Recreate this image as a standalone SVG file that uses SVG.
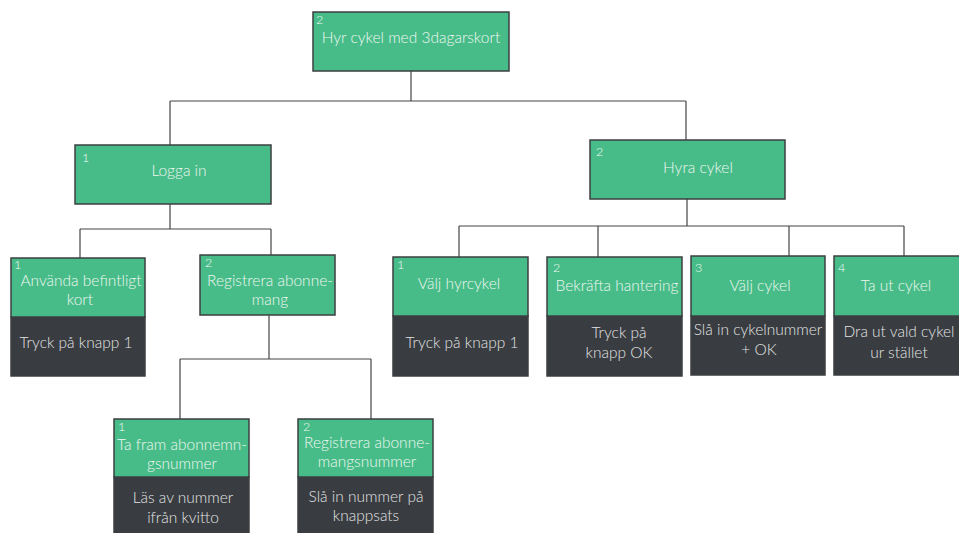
<svg xmlns="http://www.w3.org/2000/svg" width="959" height="533" viewBox="0 0 959 533">
<style>
.g{fill:#48bc88;stroke:#3c3f42;stroke-width:1.5}
.d{fill:#393c40;stroke:#3c3f42;stroke-width:1.5}
.t{font-family:Lato,"Liberation Sans",sans-serif;font-weight:300;font-size:15.5px;fill:#eef7f1;text-anchor:middle}
.n{font-family:Lato,"Liberation Sans",sans-serif;font-weight:300;font-size:12.5px;fill:#f4fbf6}
.w{font-family:Lato,"Liberation Sans",sans-serif;font-weight:300;font-size:15.5px;fill:#e2e3e4;text-anchor:middle}
.c{fill:none;stroke:#444;stroke-width:1.2}
</style>
<rect width="959" height="533" fill="#ffffff"/>
<g id="connectors">
<path class="c" d="M411,71V101M170,101H686M170,101V145M686,101V140"/>
<path class="c" d="M170,204V229M80,229H271M80,229V258M271,229V255"/>
<path class="c" d="M269,315V359M180,359H371M180,359V419M371,359V419"/>
<path class="c" d="M687,199V226M459,226H904M459,226V257M598,226V257M789,226V256M904,226V256"/>
</g>
<g id="n-root"><rect class="g" x="313" y="12" width="196" height="59"/><text class="n" x="316" y="24">2</text><text class="t" x="411" y="43">Hyr cykel med 3dagarskort</text></g>
<g id="n-logga"><rect class="g" x="75" y="145" width="196" height="59"/><text class="n" x="82" y="162">1</text><text class="t" x="179" y="176">Logga in</text></g>
<g id="n-hyra"><rect class="g" x="590" y="140" width="195" height="59"/><text class="n" x="596" y="156">2</text><text class="t" x="698" y="173">Hyra cykel</text></g>
<g id="n-anvanda"><rect class="d" x="11" y="317" width="134" height="59"/><rect class="g" x="11" y="258" width="134" height="59"/><text class="n" x="14" y="269">1</text><text class="t" x="81" y="286">Använda befintligt</text><text class="t" x="80" y="305">kort</text><text class="w" x="76" y="348">Tryck på knapp 1</text></g>
<g id="n-registrera"><rect class="g" x="200" y="255" width="135" height="60"/><text class="n" x="205" y="267">2</text><text class="t" x="270" y="286">Registrera abonne-</text><text class="t" x="270" y="305">mang</text></g>
<g id="n-tafram"><rect class="d" x="114" y="477" width="135" height="60"/><rect class="g" x="114" y="419" width="135" height="58"/><text class="n" x="118" y="431">1</text><text class="t" x="182" y="450">Ta fram abonnemn-</text><text class="t" x="182" y="469">gsnummer</text><text class="w" x="183" y="503">Läs av nummer</text><text class="w" x="183" y="523">ifrån kvitto</text></g>
<g id="n-regnr"><rect class="d" x="298" y="477" width="135" height="60"/><rect class="g" x="298" y="419" width="135" height="58"/><text class="n" x="303" y="431">2</text><text class="t" x="367" y="448">Registrera abonne-</text><text class="t" x="367" y="467">mangsnummer</text><text class="w" x="366" y="502">Slå in nummer på</text><text class="w" x="366" y="521">knappsats</text></g>
<g id="n-valjhyr"><rect class="d" x="393" y="316" width="135" height="60"/><rect class="g" x="393" y="257" width="135" height="59"/><text class="n" x="397" y="269">1</text><text class="t" x="459" y="289">Välj hyrcykel</text><text class="w" x="462" y="348">Tryck på knapp 1</text></g>
<g id="n-bekrafta"><rect class="d" x="547" y="316" width="135" height="60"/><rect class="g" x="547" y="257" width="135" height="59"/><text class="n" x="553" y="272">2</text><text class="t" x="617" y="291">Bekräfta hantering</text><text class="w" x="619" y="338">Tryck på</text><text class="w" x="619" y="358">knapp OK</text></g>
<g id="n-valjcykel"><rect class="d" x="691" y="316" width="134" height="59"/><rect class="g" x="691" y="256" width="134" height="60"/><text class="n" x="695" y="272">3</text><text class="t" x="760" y="291">Välj cykel</text><text class="w" x="758" y="335">Slå in cykelnummer</text><text class="w" x="759" y="355">+ OK</text></g>
<g id="n-taut"><rect class="d" x="834" y="316" width="136" height="59"/><rect class="g" x="834" y="256" width="136" height="60"/><text class="n" x="838" y="272">4</text><text class="t" x="896" y="291">Ta ut cykel</text><text class="w" x="899" y="337">Dra ut vald cykel</text><text class="w" x="899" y="358">ur stället</text></g>
</svg>
